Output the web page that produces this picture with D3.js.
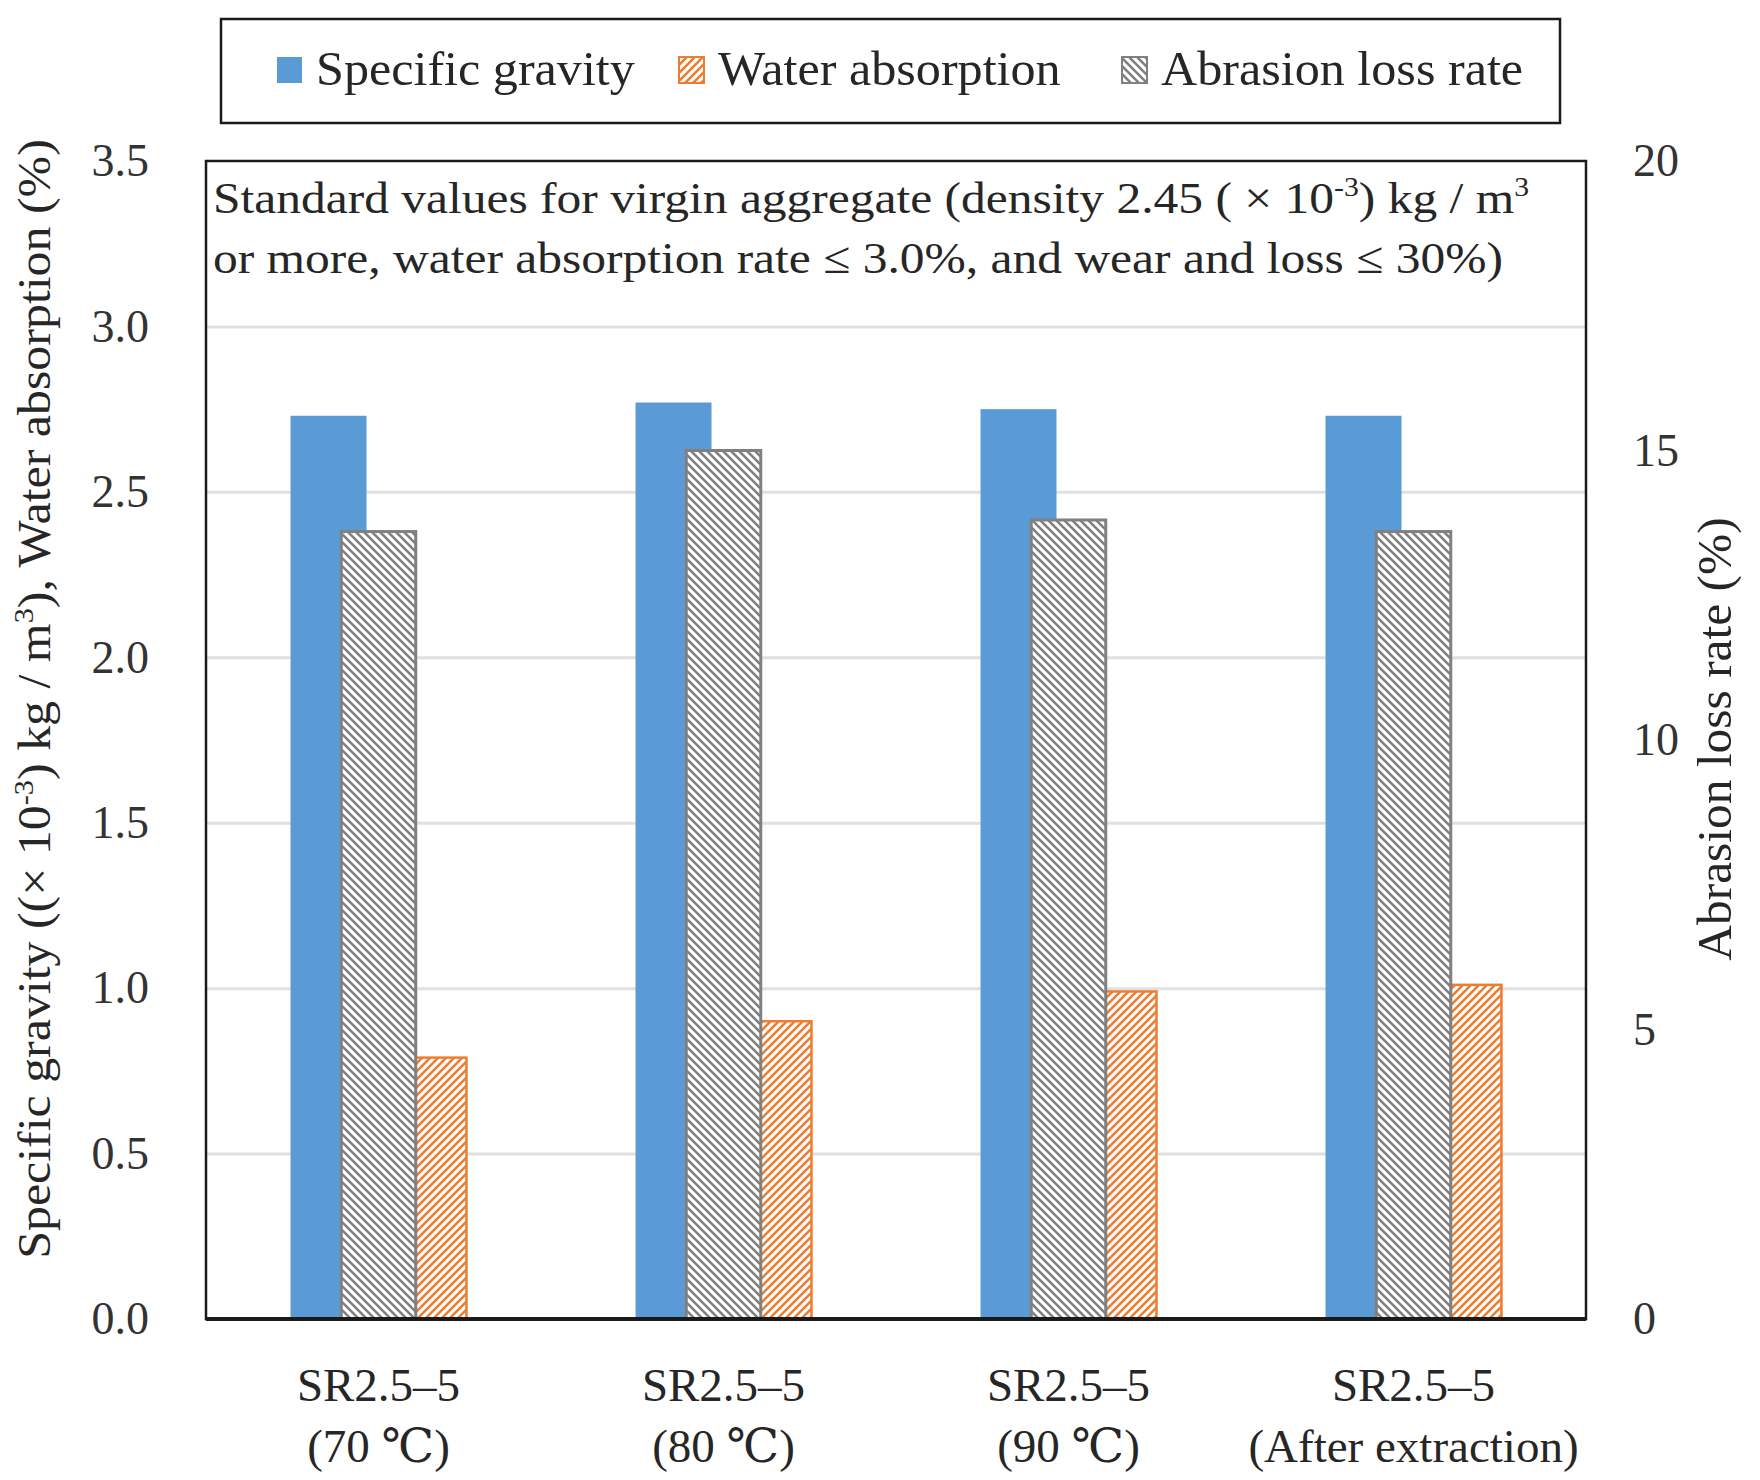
<!DOCTYPE html>
<html>
<head>
<meta charset="utf-8">
<script src="https://cdn.jsdelivr.net/npm/d3@7/dist/d3.min.js"></script>
<style>
body{margin:0;background:#fff}
text{font-family:"Liberation Serif","DejaVu Serif",serif;fill:#262626}
</style>
</head>
<body>
<script>
// data
const categories=["70","80","90","after"];
const catLine1=["SR2.5–5","SR2.5–5","SR2.5–5","SR2.5–5"];
const catLine2=["(70 ℃)","(80 ℃)","(90 ℃)","(After extraction)"];
const specificGravity=[2.73,2.77,2.75,2.73];
const waterAbsorption=[0.79,0.90,0.99,1.01];
const abrasionLoss=[13.6,15.0,13.8,13.6];
const leftTicks=[0,0.5,1,1.5,2,2.5,3,3.5];
const rightTicks=[0,5,10,15,20];
const seriesNames=["Specific gravity","Water absorption","Abrasion loss rate"];

const W=1760,H=1480;
const plotL=206,plotR=1586,plotT=161,plotB=1319;

const svg=d3.select("body").append("svg")
  .attr("width",W).attr("height",H);

// hatch patterns
const defs=svg.append("defs");
defs.append("pattern").attr("id","hatchOrange")
  .attr("patternUnits","userSpaceOnUse").attr("width",8).attr("height",8)
  .call(p=>{
    p.append("rect").attr("width",8).attr("height",8).attr("fill","#fff");
    p.append("path").attr("d","M-2,2 L2,-2 M0,8 L8,0 M6,10 L10,6")
      .attr("stroke","#ED7D31").attr("stroke-width",2.6);
  });
defs.append("pattern").attr("id","hatchGray")
  .attr("patternUnits","userSpaceOnUse").attr("width",8).attr("height",8)
  .call(p=>{
    p.append("rect").attr("width",8).attr("height",8).attr("fill","#fff");
    p.append("path").attr("d","M-2,6 L2,10 M0,0 L8,8 M6,-2 L10,2")
      .attr("stroke","#7F7F7F").attr("stroke-width",2.6);
  });

//scales
const x=d3.scaleBand().domain(categories).range([plotL,plotR]).padding(0);
const bw=x.bandwidth();
const inner=d3.scaleBand().domain(["sg","wa"]).range([-0.255*bw,0.255*bw]).paddingInner(0.24);
const grayW=0.216*bw;
const y=d3.scaleLinear().domain([0,3.5]).range([plotB,plotT]);
const y2=d3.scaleLinear().domain([0,20]).range([plotB,plotT]);

// gridlines
svg.append("g")
  .attr("transform","translate("+plotL+",0)")
  .call(d3.axisLeft(y).tickValues(leftTicks.filter(d=>d>0&&d<3.5)).tickSize(-(plotR-plotL)).tickFormat(""))
  .call(g=>g.select(".domain").remove())
  .call(g=>g.selectAll("line").attr("stroke","#e0e0e0").attr("stroke-width",3));

// annotation inside plot (stretched a little, the original face is wider than Times)
const note=svg.append("text").attr("font-size",45)
  .attr("transform","translate(213,0) scale(1.1,1) translate(-213,0)");
const l1=note.append("tspan").attr("x",213).attr("y",213);
l1.append("tspan").text("Standard values for virgin aggregate (density 2.45 ( × 10");
l1.append("tspan").attr("font-size",27).attr("dy",-17).text("-3");
l1.append("tspan").attr("dy",17).text(") kg / m");
l1.append("tspan").attr("font-size",27).attr("dy",-17).text("3");
note.append("tspan").attr("x",213).attr("y",273)
  .text("or more, water absorption rate ≤ 3.0%, and wear and loss ≤ 30%)");

const rows=categories.map((c,i)=>({c,sg:specificGravity[i],wa:waterAbsorption[i],ab:abrasionLoss[i]}));

// specific gravity
svg.append("g").selectAll("rect").data(rows).enter().append("rect")
  .attr("x",d=>x(d.c)+bw/2+inner("sg"))
  .attr("y",d=>y(d.sg))
  .attr("width",inner.bandwidth())
  .attr("height",d=>y(0)-y(d.sg))
  .attr("fill","#5B9BD5");

// water absorption
svg.append("g").selectAll("rect").data(rows).enter().append("rect")
  .attr("x",d=>x(d.c)+bw/2+inner("wa"))
  .attr("y",d=>y(d.wa))
  .attr("width",inner.bandwidth())
  .attr("height",d=>y(0)-y(d.wa))
  .attr("fill","url(#hatchOrange)")
  .attr("stroke","#ED7D31").attr("stroke-width",2.5);

// abrasion loss (secondary axis)
svg.append("g").selectAll("rect").data(rows).enter().append("rect")
  .attr("x",d=>x(d.c)+bw/2-grayW/2)
  .attr("y",d=>y2(d.ab))
  .attr("width",grayW)
  .attr("height",d=>y2(0)-y2(d.ab))
  .attr("fill","url(#hatchGray)")
  .attr("stroke","#808080").attr("stroke-width",3);

// plot frame
svg.append("rect")
  .attr("x",plotL).attr("y",plotT).attr("width",plotR-plotL).attr("height",plotB-plotT)
  .attr("fill","none").attr("stroke","#1a1a1a").attr("stroke-width",2.5);
svg.append("line").attr("x1",plotL).attr("x2",plotR).attr("y1",plotB).attr("y2",plotB)
  .attr("stroke","#1a1a1a").attr("stroke-width",4);

//Axis
const yAxis=d3.axisLeft(y).tickValues(leftTicks).tickFormat(d3.format(".1f")).tickSize(0).tickPadding(57);
const y2Axis=d3.axisRight(y2).tickValues(rightTicks).tickSize(0).tickPadding(47);

svg.append("g").attr("transform","translate("+plotL+",0)").call(yAxis)
  .call(g=>g.select(".domain").remove())
  .call(g=>g.selectAll("text").attr("font-size",46).attr("font-family",null).style("fill","#333"));
svg.append("g").attr("transform","translate("+plotR+",0)").call(y2Axis)
  .call(g=>g.select(".domain").remove())
  .call(g=>g.selectAll("text").attr("font-size",46).attr("font-family",null).style("fill","#333"));

const xAxis=d3.axisBottom(x).tickSize(0).tickFormat("");
svg.append("g").attr("transform","translate(0,"+plotB+")").call(xAxis)
  .call(g=>g.select(".domain").remove());

const catText=svg.append("g").selectAll("text").data(categories).enter().append("text")
  .attr("text-anchor","middle").attr("font-size",47);
catText.append("tspan").attr("x",d=>x(d)+bw/2).attr("y",1401).text((d,i)=>catLine1[i]);
catText.append("tspan").attr("x",d=>x(d)+bw/2).attr("y",1462).text((d,i)=>catLine2[i]);

// axis titles
const t1=svg.append("text").attr("transform","translate(50,699) rotate(-90) scale(1.085,1)")
  .attr("text-anchor","middle").attr("font-size",46);
t1.append("tspan").text("Specific gravity ((× 10");
t1.append("tspan").attr("font-size",28).attr("dy",-17).text("-3");
t1.append("tspan").attr("dy",17).text(") kg / m");
t1.append("tspan").attr("font-size",28).attr("dy",-17).text("3");
t1.append("tspan").attr("dy",17).text("), Water absorption (%)");

svg.append("text").attr("transform","translate(1731,739) rotate(-90) scale(1.03,1)")
  .attr("text-anchor","middle").attr("font-size",48).text("Abrasion loss rate (%)");

// legend
svg.append("rect").attr("x",221).attr("y",19).attr("width",1339).attr("height",104)
  .attr("fill","#fff").attr("stroke","#1a1a1a").attr("stroke-width",2.5);
const swatchFill=["#5B9BD5","url(#hatchOrange)","url(#hatchGray)"];
const swatchStroke=["none","#ED7D31","#808080"];
const legendX=[277,679,1122];
seriesNames.forEach((name,i)=>{
  const lx=legendX[i];
  svg.append("rect").attr("x",lx).attr("y",57).attr("width",25).attr("height",26)
    .attr("fill",swatchFill[i]).attr("stroke",swatchStroke[i]).attr("stroke-width",2);
  svg.append("text").attr("x",lx+39).attr("y",85).attr("font-size",48)
    .attr("transform","translate("+(lx+39)+",0) scale(1.045,1) translate("+(-(lx+39))+",0)")
    .text(name);
});
</script>
</body>
</html>
